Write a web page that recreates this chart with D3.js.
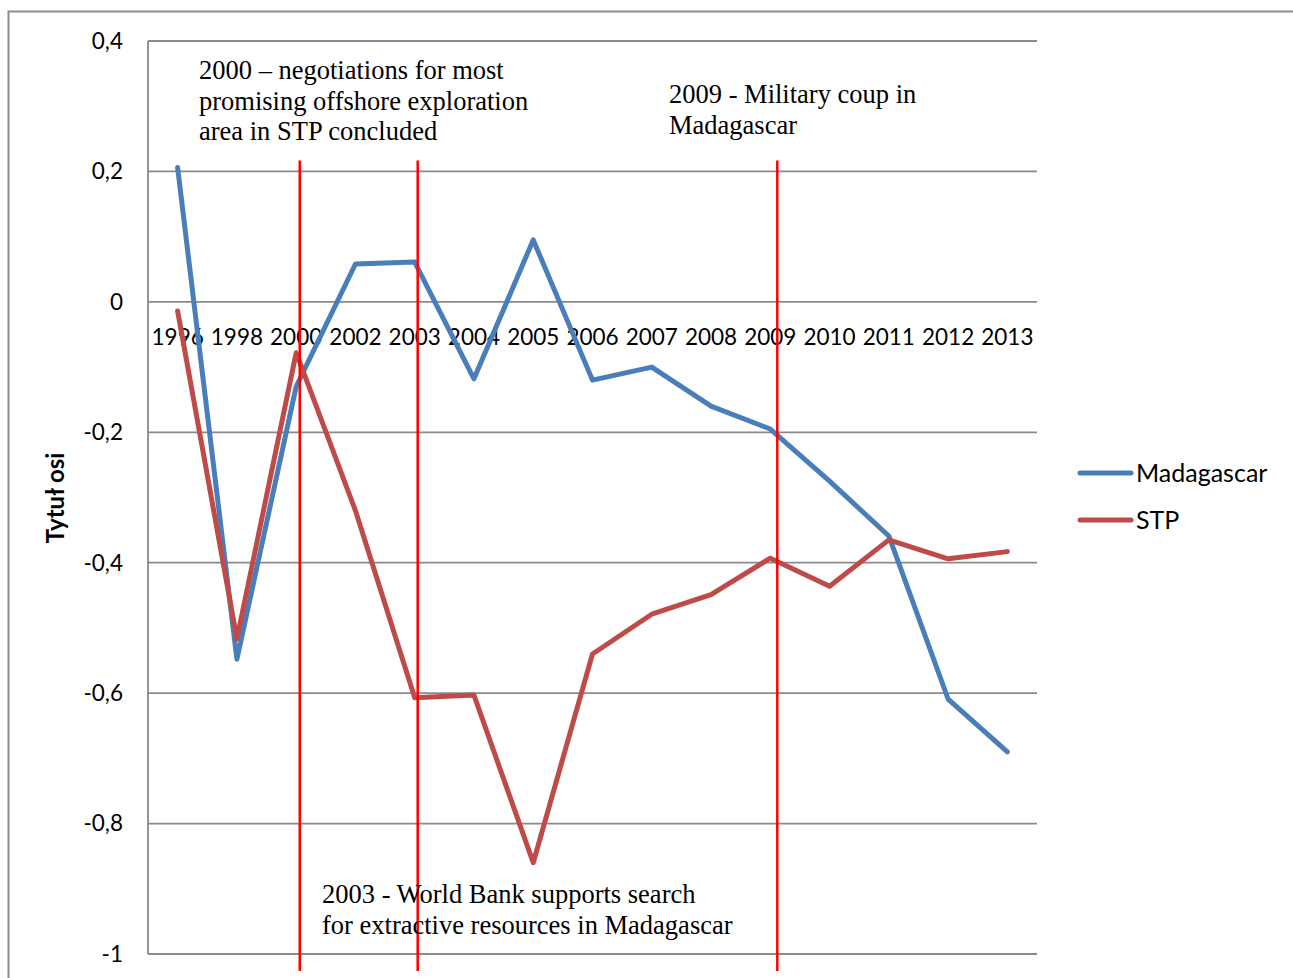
<!DOCTYPE html>
<html>
<head>
  <meta charset="utf-8">
  <script src="https://cdn.jsdelivr.net/npm/d3@7"></script>
<style>
  body { margin: 0; background: #fff; }
  .tick-label { font-family: Lato, "Open Sans", sans-serif; font-size: 22.5px; fill: #000; }
  .legend-label { font-family: Lato, "Open Sans", sans-serif; font-size: 25px; fill: #000; }
  .note { font-family: "Liberation Serif", "Times New Roman", serif; font-size: 26.5px; fill: #000; }
</style>
</head>
<body>
<script>
  // chart data
  var years = ["1996","1998","2000","2002","2003","2004","2005","2006","2007","2008","2009","2010","2011","2012","2013"];
  var madagascar = [0.206,-0.548,-0.13,0.058,0.061,-0.118,0.095,-0.12,-0.10,-0.16,-0.195,-0.275,-0.359,-0.609,-0.69];
  var stp = [-0.014,-0.517,-0.078,-0.32,-0.607,-0.603,-0.86,-0.54,-0.479,-0.449,-0.393,-0.436,-0.365,-0.394,-0.383];
  var yTicks = [0.4,0.2,0,-0.2,-0.4,-0.6,-0.8,-1];
  var eventYears = ["2000","2003","2009"];
  var notes = [
    ["2000 \u2013 negotiations for most", "promising offshore exploration", "area in STP concluded"],
    ["2009 - Military coup in", "Madagascar"],
    ["2003 - World Bank supports search", "for extractive resources in Madagascar"]
  ];

  var W = 1293, H = 978;
  var plot = {left: 148, right: 1037, top: 41, bottom: 954};

  var svg = d3.select("body").append("svg")
      .attr("width", W)
      .attr("height", H);

  // outer chart border
  svg.append("rect")
      .attr("x", 8.5).attr("y", 11.5)
      .attr("width", 1300).attr("height", 1000)
      .attr("fill", "none")
      .attr("stroke", "#8c8c8c")
      .attr("stroke-width", 2);

  var x = d3.scalePoint().domain(years).range([plot.left, plot.right]).padding(0.5);
  var y = d3.scaleLinear().domain([-1, 0.4]).range([plot.bottom, plot.top]);

  // gridlines
  svg.append("g").selectAll("line")
      .data(yTicks)
      .enter().append("line")
      .attr("x1", plot.left).attr("x2", plot.right)
      .attr("y1", function (d) { return y(d); })
      .attr("y2", function (d) { return y(d); })
      .attr("stroke", "#8a8a8a")
      .attr("stroke-width", 1.8);

  // value axis line
  svg.append("line")
      .attr("x1", plot.left).attr("x2", plot.left)
      .attr("y1", plot.top).attr("y2", plot.bottom)
      .attr("stroke", "#8a8a8a")
      .attr("stroke-width", 1.8);

  // y tick labels
  svg.append("g").selectAll("text")
      .data(yTicks)
      .enter().append("text")
      .attr("class", "tick-label")
      .attr("x", 123)
      .attr("y", function (d) { return y(d); })
      .attr("dy", "0.35em")
      .attr("text-anchor", "end")
      .text(function (d) { return String(d).replace(".", ","); });

  // axis title
  svg.append("text")
      .attr("transform", "translate(64," + 498 + ") rotate(-90)")
      .attr("text-anchor", "middle")
      .style("font-family", "Lato, 'Open Sans', sans-serif")
      .style("font-weight", "bold")
      .style("font-size", "24px")
      .text("Tytuł osi");

  // category labels, sitting just under the zero line
  svg.append("g").selectAll("text")
      .data(years)
      .enter().append("text")
      .attr("class", "tick-label")
      .attr("x", function (d) { return x(d); })
      .attr("y", y(0) + 43)
      .attr("text-anchor", "middle")
      .text(function (d) { return d; });

  // series lines
  var series = [
    {name: "Madagascar", values: madagascar, color: "#4a7ebb"},
    {name: "STP", values: stp, color: "#be4b48"}
  ];
  var line = d3.line()
      .x(function (d, i) { return x(years[i]); })
      .y(function (d) { return y(d); });

  svg.append("g").selectAll("path")
      .data(series)
      .enter().append("path")
      .attr("d", function (s) { return line(s.values); })
      .attr("fill", "none")
      .attr("stroke", function (s) { return s.color; })
      .attr("stroke-width", 5)
      .attr("stroke-linejoin", "round")
      .attr("stroke-linecap", "round");

  // red event markers (drawn a touch right of the category, as in the original)
  var nudge = {"2000": 3.6, "2003": 3, "2009": 7};
  svg.append("g").selectAll("line")
      .data(eventYears)
      .enter().append("line")
      .attr("x1", function (d) { return x(d) + nudge[d]; })
      .attr("x2", function (d) { return x(d) + nudge[d]; })
      .attr("y1", y(0.2) - 11)
      .attr("y2", y(-1) + 17)
      .attr("stroke", "#ff0000")
      .attr("stroke-width", 2.5);

  // annotation texts
  var notePos = [[199, 79], [669, 103], [322, 903]];
  notes.forEach(function (lines, k) {
    svg.append("g").selectAll("text")
        .data(lines)
        .enter().append("text")
        .attr("class", "note")
        .attr("x", notePos[k][0])
        .attr("y", function (d, i) { return notePos[k][1] + i * 30.5; })
        .text(function (d) { return d; });
  });

  // legend
  var legend = svg.append("g").selectAll("g")
      .data(series)
      .enter().append("g")
      .attr("transform", function (d, i) { return "translate(1079," + (473 + i * 47) + ")"; });
  legend.append("line")
      .attr("x1", 1).attr("x2", 52)
      .attr("stroke", function (d) { return d.color; })
      .attr("stroke-width", 5)
      .attr("stroke-linecap", "round");
  legend.append("text")
      .attr("class", "legend-label")
      .attr("x", 57)
      .attr("dy", "0.35em")
      .text(function (d) { return d.name; });
</script>
</body>
</html>
